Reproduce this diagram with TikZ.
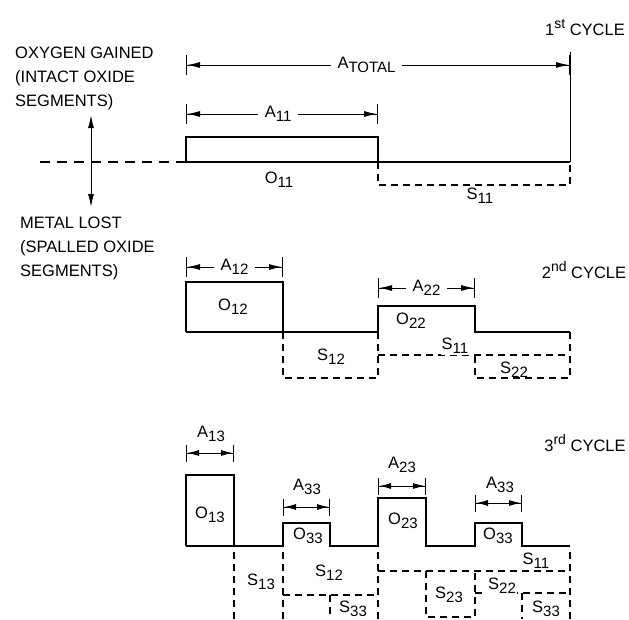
\documentclass[tikz,border=0pt]{standalone}
\usepackage{fontspec}
\setmainfont{Liberation Sans}
\usetikzlibrary{arrows.meta}

\newcommand{\lowidx}[1]{\raisebox{-0.5ex}{\fontsize{15}{15}\selectfont #1}}
\newcommand{\upidx}[1]{\raisebox{0.8ex}{\fontsize{14}{14}\selectfont #1}}

\tikzset{
  oxide/.style={line width=2.2pt, line join=miter},
  spall/.style={line width=1.3pt, dash pattern=on 7pt off 5pt},
  zeroline/.style={line width=1.1pt, dash pattern=on 10pt off 7pt},
  dimline/.style={line width=1pt, {Bar[width=20pt]Latex[length=13pt,width=6pt]}-{Latex[length=13pt,width=6pt]Bar[width=20pt]}},
  shortdim/.style={dimline, {Bar[width=17pt]Latex[length=12pt,width=6pt]}-{Latex[length=12pt,width=6pt]Bar[width=17pt]}},
  lbl/.style={font=\fontsize{16.5}{24}\selectfont, inner sep=1pt},
  gap/.style={lbl, fill=white, inner xsep=7pt},
}

\begin{document}
\begin{tikzpicture}[x=1pt, y=-1pt]
  \useasboundingbox (0,0) rectangle (629,619);

  % Legend on the left
  \node[lbl, anchor=north west, align=left, inner sep=0pt] (gained) at (15,47) {OXYGEN GAINED\\(INTACT OXIDE\\SEGMENTS)};
  \node[lbl, anchor=north west, align=left, inner sep=0pt] (lost) at (20,217) {METAL LOST\\(SPALLED OXIDE\\SEGMENTS)};
  \coordinate (up) at (91,115);
  \coordinate (down) at (91,207);
  \draw[line width=1pt, {Latex[length=13pt,width=6pt]}-{Latex[length=13pt,width=6pt]}] (up) -- (down);
  \draw[zeroline] (40,162) -- (186,162);

  % 1st cycle
  \node[lbl] (cyc1) at (585,28) {1\upidx{st} CYCLE};
  \draw[oxide] (186,162) -- (186,137) -- (378,137) -- (378,162);
  \draw[oxide] (186,162) -- (570,162);
  \draw[spall] (378,162) -- (378,185) -- (570,185) -- (570,162);
  \draw[line width=1pt] (570,162) -- (570,52);
  \draw[dimline] (186,65) -- node[gap, pos=0.47] (atot) {A\lowidx{TOTAL}} (570,65);
  \draw[dimline] (186,114) -- node[gap, pos=0.48] (a11) {A\lowidx{11}} (378,114);
  \node[lbl] (o11) at (279,180) {O\lowidx{11}};
  \node[lbl] (s11a) at (480,196) {S\lowidx{11}};

  % 2nd cycle
  \node[lbl] (cyc2) at (584,270) {2\upidx{nd} CYCLE};
  \draw[oxide] (186,332) -- (186,282) -- (283,282) -- (283,332) -- (378,332)
    -- (378,306) -- (475,306) -- (475,332) -- (570,332);
  \draw[oxide] (186,332) -- (283,332);
  \draw[spall] (283,332) -- (283,378) -- (378,378) -- (378,332);
  \draw[spall] (378,355) -- (570,355);
  \draw[spall] (570,332) -- (570,378) -- (475,378) -- (475,355);
  \draw[dimline] (186,267) -- node[gap] (a12) {A\lowidx{12}} (283,267);
  \draw[dimline] (378,288) -- node[gap] (a22) {A\lowidx{22}} (475,288);
  \node[lbl] (o12) at (233,307) {O\lowidx{12}};
  \node[lbl] (o22) at (411,321) {O\lowidx{22}};
  \node[lbl] (s12b) at (331,357) {S\lowidx{12}};
  \node[lbl, fill=white] (s11b) at (455,346) {S\lowidx{11}};
  \node[lbl] (s22b) at (514,370) {S\lowidx{22}};

  % 3rd cycle
  \node[lbl] (cyc3) at (585,443) {3\upidx{rd} CYCLE};
  \draw[oxide] (186,546) -- (186,475) -- (234,475) -- (234,546) -- (283,546)
    -- (283,523) -- (330,523) -- (330,546) -- (378,546)
    -- (378,498) -- (426,498) -- (426,546) -- (475,546)
    -- (475,523) -- (522,523) -- (522,546) -- (570,546);
  \draw[oxide] (186,546) -- (234,546);
  \draw[shortdim] (186,453) -- (234,453);
  \draw[shortdim] (283,507) -- (330,507);
  \draw[shortdim] (378,486) -- (426,486);
  \draw[shortdim] (475,503) -- (522,503);
  \node[lbl] (a13) at (211,434) {A\lowidx{13}};
  \node[lbl] (a33l) at (307,487) {A\lowidx{33}};
  \node[lbl] (a23) at (402,465) {A\lowidx{23}};
  \node[lbl] (a33r) at (500,485) {A\lowidx{33}};
  \node[lbl] (o13) at (210,515) {O\lowidx{13}};
  \node[lbl] (o33l) at (308,536) {O\lowidx{33}};
  \node[lbl] (o23) at (403,521) {O\lowidx{23}};
  \node[lbl] (o33r) at (498,536) {O\lowidx{33}};

  % spalled segments, 3rd cycle
  \draw[spall] (234,552) -- (234,619);
  \draw[spall] (283,552) -- (283,619);
  \draw[spall] (378,552) -- (378,619);
  \draw[spall] (570,552) -- (570,619);
  \draw[spall] (283,595) -- (378,595);
  \draw[spall] (330,595) -- (330,619);
  \draw[spall] (378,571) -- (570,571);
  \draw[spall] (426,571) -- (426,617) -- (475,617) -- (475,571);
  \draw[spall] (475,593) -- (570,593);
  \draw[spall] (522,593) -- (522,619);
  \node[lbl] (s13) at (261,582) {S\lowidx{13}};
  \node[lbl] (s12c) at (329,573) {S\lowidx{12}};
  \node[lbl] (s33l) at (353,609) {S\lowidx{33}};
  \node[lbl, fill=white] (s11c) at (536,561) {S\lowidx{11}};
  \node[lbl] (s23) at (449,595) {S\lowidx{23}};
  \node[lbl, fill=white] (s22c) at (502,586) {S\lowidx{22}};
  \node[lbl] (s33r) at (546,609) {S\lowidx{33}};
\end{tikzpicture}
\end{document}
